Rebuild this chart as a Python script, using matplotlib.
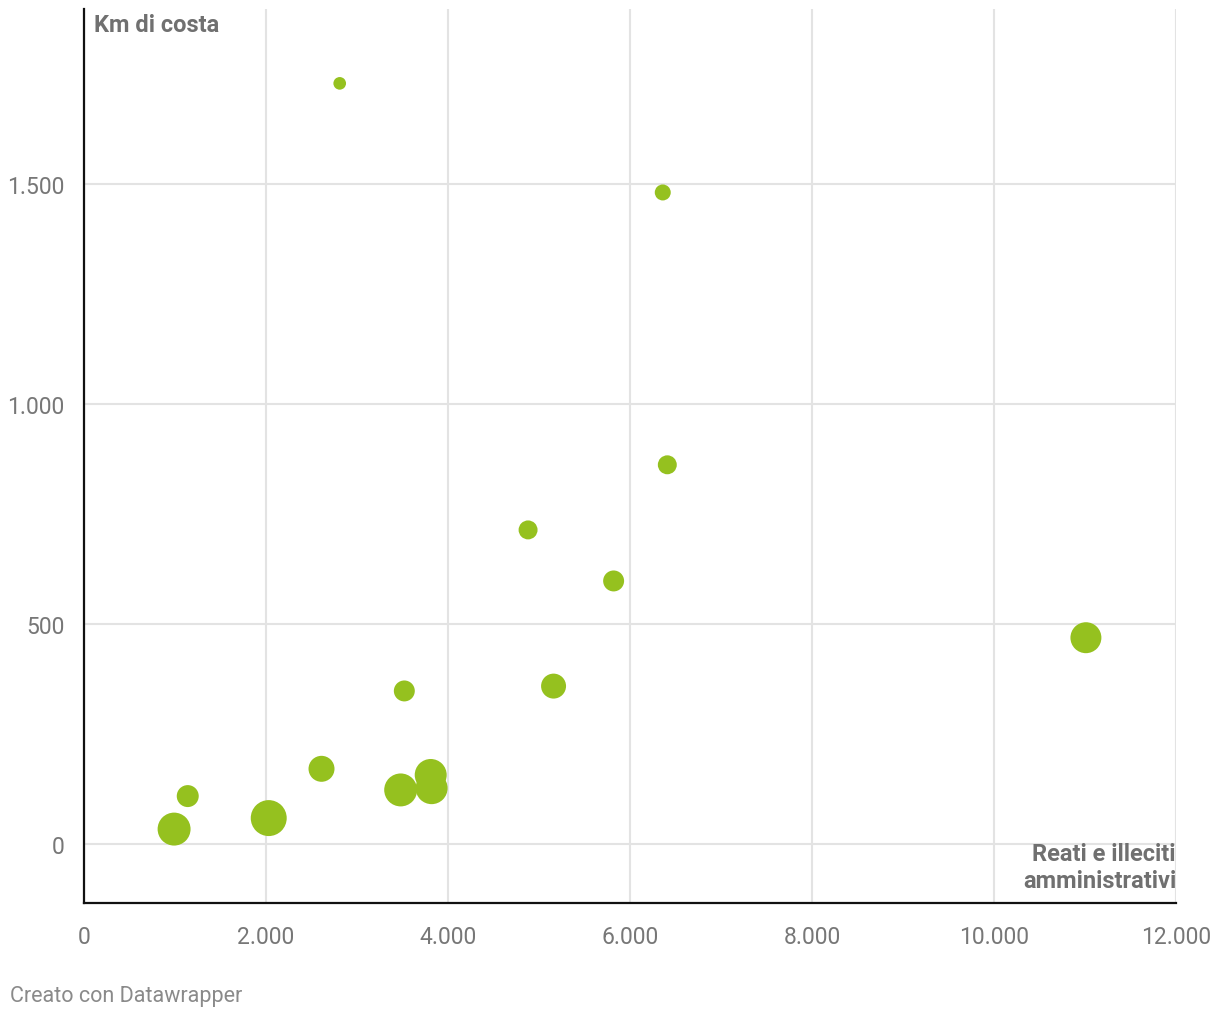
import matplotlib.pyplot as plt
from matplotlib.ticker import FuncFormatter

# dati
reati = [2810, 6360, 6410, 4880, 5820, 11010, 3520, 5160, 2610, 1140, 3810, 3820, 3480, 2030, 990]
km_costa = [1729, 1481, 862, 714, 598, 469, 348, 359, 171, 109, 157, 127, 123, 59, 34]
dimensione = [40, 64, 90, 90, 110, 240, 110, 156, 169, 121, 256, 256, 272, 324, 272]

verde = "#95c11f"
grigio = "#707070"

plt.rcParams['font.family'] = ['Roboto', 'DejaVu Sans']

fig = plt.figure(figsize=(12.2, 10.2), dpi=100)
ax = fig.add_axes([84/1220, 116/1020, 1092/1220, 894/1020])

ax.scatter(reati, km_costa, s=[d*2.07 for d in dimensione], color=verde, edgecolors='none', zorder=3)

ax.set_xlim(0, 12000)
ax.set_ylim(-134, 1898)
ax.set_xticks(range(0, 12001, 2000))
ax.set_yticks([0, 500, 1000, 1500])

fmt = FuncFormatter(lambda v, p: "{:,.0f}".format(v).replace(",", "."))
ax.xaxis.set_major_formatter(fmt)
ax.yaxis.set_major_formatter(fmt)

ax.grid(True, color="#e3e3e3", linewidth=1.5, zorder=0)
ax.tick_params(length=0, labelsize=16.5, labelcolor="#777777")
ax.tick_params(axis='x', pad=16)
ax.tick_params(axis='y', pad=14)

for s in ['top', 'right']:
    ax.spines[s].set_visible(False)
for s in ['left', 'bottom']:
    ax.spines[s].set_color("#111111")
    ax.spines[s].set_linewidth(1.6)
    ax.spines[s].set_zorder(4)

ax.text(0.009, 0.996, "Km di costa", transform=ax.transAxes, ha='left', va='top',
        fontsize=17, fontweight='bold', color=grigio)
ax.text(1.0, 0.068, "Reati e illeciti\namministrativi", transform=ax.transAxes, ha='right', va='top',
        fontsize=17, fontweight='bold', color=grigio, linespacing=1.2)

fig.text(10/1220, 1-997/1020, "Creato con Datawrapper", ha='left', va='center',
         fontsize=15.5, color="#8a8a8a")

fig.savefig("out.png", dpi=100, facecolor="white")
